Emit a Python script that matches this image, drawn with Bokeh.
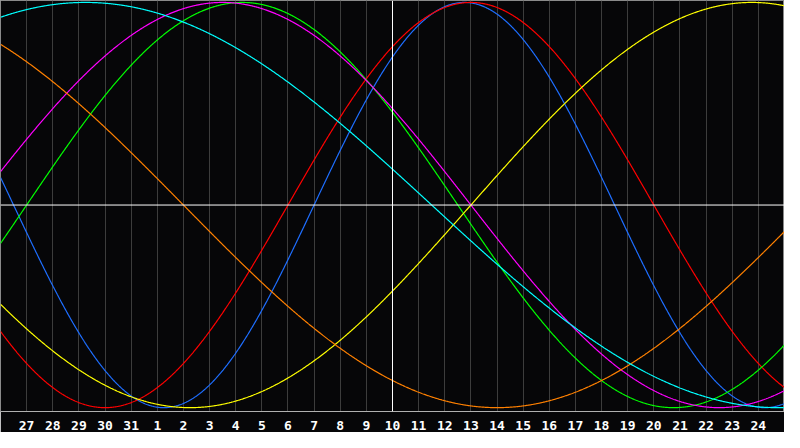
import numpy as np
from bokeh.plotting import figure
from bokeh.models import Span, FixedTicker, Range1d
from bokeh.embed import file_html
from bokeh.resources import INLINE

# Biorhythm cycles (days) and their colours
periods = [23, 28, 33, 38, 43, 48, 53]
cycle_colors = ["#1e6eff", "#ff0000", "#00ff00", "#ff00ff", "#ffff00", "#ff8000", "#00ffff"]
days_lived = 28592  # days since birth at the centre day (the 10th)

# Day offsets relative to the centre day and their labels
tick_offsets = list(range(-14, 15))
tick_labels = ["27", "28", "29", "30", "31", "1", "2", "3", "4", "5", "6", "7", "8", "9",
               "10", "11", "12", "13", "14", "15", "16", "17", "18", "19", "20", "21",
               "22", "23", "24"]

W, H = 784, 432
p = figure(width=W, height=H, output_backend="svg", toolbar_location=None,
           x_range=Range1d(-15, 15), y_range=Range1d(-1.019, 1.0095),
           y_axis_location=None, min_border=0, min_border_bottom=0)
p.background_fill_color = "#060608"
p.border_fill_color = "#060608"
p.outline_line_color = "#8a8a8a"
p.outline_line_width = 1

p.xaxis.ticker = FixedTicker(ticks=tick_offsets)
p.xaxis.major_label_overrides = {t: l for t, l in zip(tick_offsets, tick_labels)}
p.xaxis.major_tick_line_color = None
p.xaxis.minor_tick_line_color = None
p.xaxis.axis_line_color = "#b0b0b0"
p.xaxis.major_label_text_color = "#ffffff"
p.xaxis.major_label_text_font = "DejaVu Sans Mono"
p.xaxis.major_label_text_font_style = "bold"
p.xaxis.major_label_text_font_size = "13px"
p.xaxis.major_label_standoff = 3

p.xgrid.ticker = FixedTicker(ticks=tick_offsets)
p.xgrid.grid_line_color = "#3c3c3c"
p.ygrid.grid_line_color = None

xs = np.linspace(-15, 15, 1201)
for per, col in zip(periods, cycle_colors):
    ys = np.sin(2 * np.pi * (days_lived + xs) / per)
    p.line(xs, ys, line_color=col, line_width=1.2)

p.add_layout(Span(location=0, dimension="width", line_color="#ffffff", line_width=1))
p.add_layout(Span(location=0, dimension="height", line_color="#ffffff", line_width=1))

open("out.html", "w").write(file_html(p, INLINE))
